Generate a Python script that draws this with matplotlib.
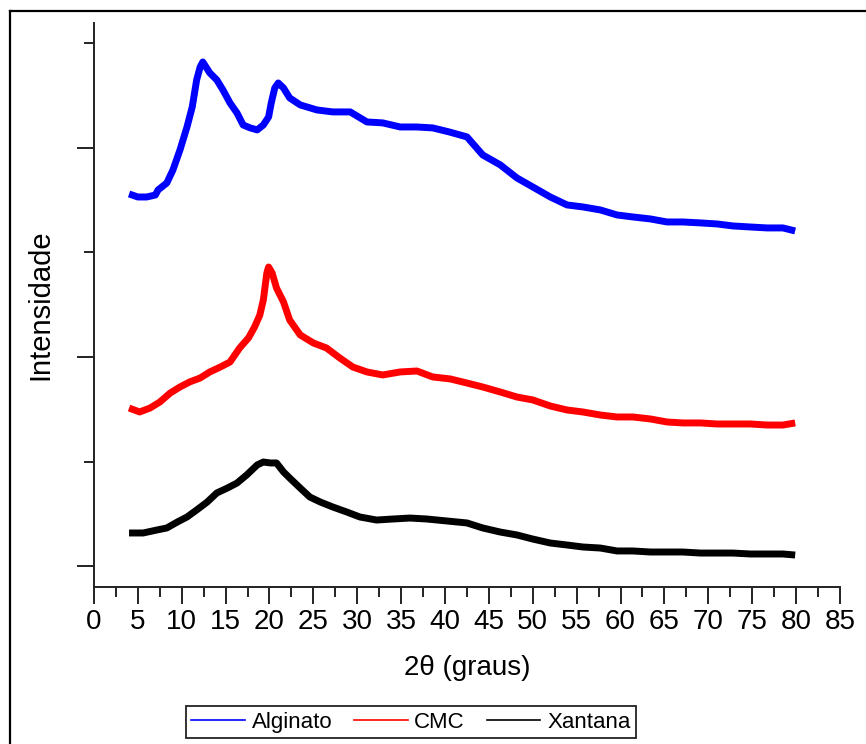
import matplotlib
matplotlib.use("Agg")
import matplotlib.pyplot as plt
from matplotlib.lines import Line2D
from matplotlib.ticker import FixedLocator

plt.rcParams['font.family'] = ['Liberation Sans', 'DejaVu Sans']

# Diffraction patterns (2theta in degrees, intensity in counts, stacked)
alginato_2theta = [4.0, 5.0, 6.0, 7.0, 7.3, 8.3, 9.0, 9.8, 10.6, 11.2, 11.7, 12.1, 12.4,
                   13.2, 14.0, 14.7, 15.5, 16.3, 17.0, 17.8, 18.6, 19.3, 19.9, 20.2, 20.6,
                   21.0, 21.6, 22.3, 23.5, 25.4, 27.2, 29.2, 31.1, 32.9, 34.9, 36.8, 38.6,
                   40.5, 42.5, 44.3, 46.3, 48.2, 50.0, 52.0, 53.9, 55.7, 57.7, 59.6, 61.4,
                   63.4, 65.3, 67.1, 69.1, 71.0, 72.8, 74.8, 76.7, 78.5, 79.9]
alginato_int = [4560, 4531, 4531, 4550, 4598, 4665, 4790, 4981, 5201, 5393, 5651, 5775, 5823,
                5718, 5651, 5555, 5431, 5335, 5220, 5192, 5173, 5220, 5297, 5431, 5574,
                5622, 5574, 5479, 5412, 5364, 5345, 5345, 5249, 5240, 5201, 5201, 5192,
                5153, 5106, 4933, 4838, 4713, 4627, 4531, 4455, 4436, 4407, 4359, 4340,
                4321, 4292, 4292, 4283, 4273, 4254, 4244, 4235, 4235, 4206]

cmc_2theta = [4.0, 5.2, 6.4, 7.5, 8.7, 9.8, 10.9, 12.1, 13.2, 14.4, 15.5, 16.6, 17.6,
              18.3, 18.9, 19.3, 19.7, 19.9, 20.3, 20.8, 21.6, 22.3, 23.5, 25.0, 26.5,
              28.0, 29.5, 31.1, 32.9, 34.9, 36.8, 38.6, 40.6, 42.5, 44.3, 46.3, 48.2,
              50.0, 52.0, 53.9, 55.7, 57.7, 59.6, 61.4, 63.4, 65.3, 67.1, 69.1, 71.0,
              72.8, 74.8, 76.7, 78.5, 79.9]
cmc_int = [2512, 2474, 2512, 2569, 2656, 2713, 2761, 2799, 2857, 2904, 2952, 3086, 3182,
           3287, 3402, 3546, 3804, 3861, 3804, 3660, 3526, 3354, 3211, 3134, 3086,
           2991, 2904, 2857, 2828, 2857, 2866, 2809, 2790, 2751, 2713, 2665, 2617,
           2589, 2531, 2493, 2474, 2445, 2426, 2426, 2407, 2378, 2369, 2369, 2359,
           2359, 2359, 2349, 2349, 2369]

xantana_2theta = [4.0, 5.6, 7.2, 8.3, 9.5, 10.6, 11.7, 12.9, 14.0, 15.2, 16.3, 17.4, 18.6,
                  19.3, 20.1, 20.8, 21.6, 22.3, 23.5, 24.6, 25.8, 27.2, 28.8, 30.3, 32.2,
                  34.1, 36.0, 37.9, 40.2, 42.5, 44.3, 46.3, 48.2, 50.0, 52.0, 53.9, 55.7,
                  57.7, 59.6, 61.4, 63.4, 65.3, 67.1, 69.1, 71.0, 72.8, 74.8, 76.7, 78.5,
                  79.9]
xantana_int = [1316, 1316, 1345, 1364, 1421, 1469, 1536, 1612, 1699, 1746, 1794, 1871, 1967,
               1995, 1986, 1986, 1900, 1842, 1746, 1660, 1612, 1565, 1517, 1469, 1440,
               1450, 1459, 1450, 1431, 1412, 1364, 1325, 1297, 1258, 1220, 1201, 1182,
               1172, 1144, 1144, 1134, 1134, 1134, 1124, 1124, 1124, 1115, 1115, 1115,
               1105]

series_names = ["Alginato", "CMC", "Xantana"]
series_colors = ["#0000ff", "#ff0000", "#000000"]

x_ticks = list(range(0, 90, 5))
x_minor = [2.5 + 5 * i for i in range(17)]
y_major = [1000, 3000, 5000]
y_minor = [2000, 4000, 6000]

fig = plt.figure(figsize=(8.66, 7.44), dpi=100)
ax = fig.add_axes([0.1085, 0.2110, 0.8614, 0.7581])

data = [(alginato_2theta, alginato_int), (cmc_2theta, cmc_int), (xantana_2theta, xantana_int)]
for (xs, ys), name, col in zip(data, series_names, series_colors):
    ax.plot(xs, ys, color=col, lw=5.0, solid_joinstyle='round', solid_capstyle='butt',
            label=name)

ax.set_xlim(0, 85)
ax.set_ylim(799, 6196)
ax.xaxis.set_major_locator(FixedLocator(x_ticks))
ax.xaxis.set_minor_locator(FixedLocator(x_minor))
ax.yaxis.set_major_locator(FixedLocator(y_major))
ax.yaxis.set_minor_locator(FixedLocator(y_minor))
ax.set_yticklabels([])
ax.set_xticklabels([str(t) for t in x_ticks])

for side in ("top", "right"):
    ax.spines[side].set_visible(False)
for side in ("left", "bottom"):
    ax.spines[side].set_color("#222222")
    ax.spines[side].set_linewidth(1.4)

ax.tick_params(axis='both', which='major', direction='out', length=12, width=1.4,
               color="#222222", labelsize=20, pad=4)
ax.tick_params(axis='both', which='minor', direction='out', length=7, width=1.4,
               color="#222222")

ax.set_xlabel("2θ (graus)", fontsize=20, labelpad=14)
ax.set_ylabel("Intensidade", fontsize=21)
ax.yaxis.set_label_coords(-0.0536, 0.5)

handles = [Line2D([], [], color=c, lw=1.2) for c in series_colors]
leg = fig.legend(handles, series_names, loc='center', bbox_to_anchor=(0.4746, 0.029),
                 ncol=3, fontsize=16, frameon=True, fancybox=False, edgecolor='#222222',
                 framealpha=1, handlelength=2.4, handletextpad=0.3, columnspacing=1.0,
                 borderpad=0.25, borderaxespad=0)
leg.get_frame().set_linewidth(1.3)

# Outer frame (top and left edges)
fig.add_artist(Line2D([10 / 866, 1.0], [1 - 10.5 / 744, 1 - 10.5 / 744],
                      transform=fig.transFigure, color='black', lw=1.6))
fig.add_artist(Line2D([10 / 866, 10 / 866], [1 - 10.5 / 744, 0.0],
                      transform=fig.transFigure, color='black', lw=1.6))

fig.savefig("out.png", dpi=100)
